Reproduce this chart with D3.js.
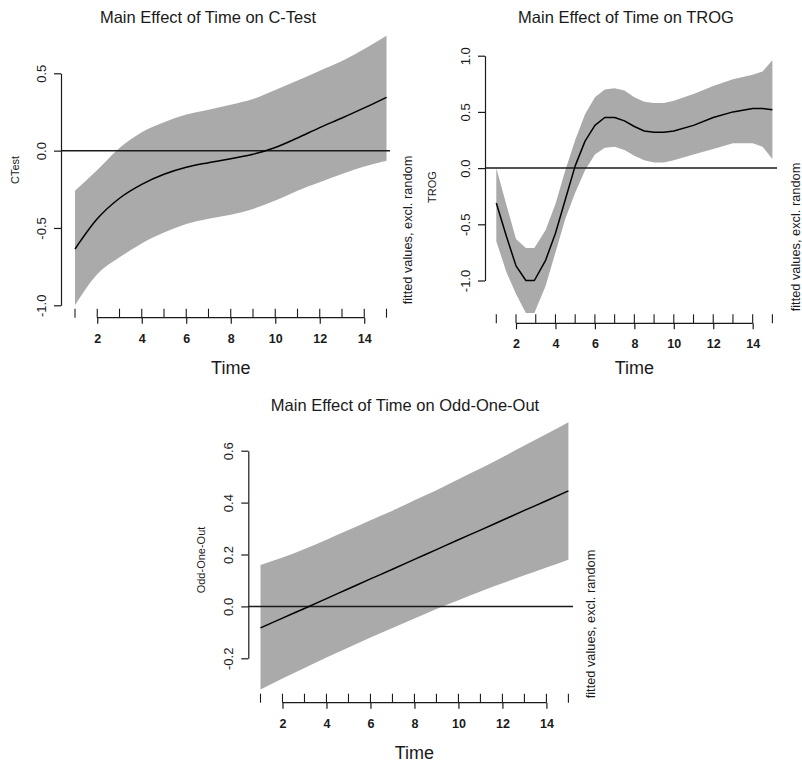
<!DOCTYPE html>
<html>
<head>
<meta charset="utf-8">
<script src="https://cdn.jsdelivr.net/npm/d3@7"></script>
<style>
  html, body { margin: 0; padding: 0; background: #fff; }
  svg { display: block; font-family: "Liberation Sans", Arial, Helvetica, sans-serif; }
</style>
</head>
<body>
<svg id="chart" width="802" height="764"></svg>
<script>
// ---------- DATA ----------
const rugTimes = [1,2,3,4,5,6,7,8,9,10,11,12,13,14,15];
const xTickValues = [2,4,6,8,10,12,14];

// Panel 1: C-Test
const ctestTime  = [1,2,3,4,5,6,7,8,9,10,11,12,13,14,15];
const ctestFit   = [-0.636,-0.441,-0.308,-0.218,-0.153,-0.108,-0.078,-0.052,-0.024,0.020,0.082,0.149,0.211,0.276,0.345];
const ctestUpper = [-0.259,-0.125,0.017,0.119,0.183,0.233,0.265,0.297,0.334,0.392,0.453,0.517,0.580,0.657,0.743];
const ctestLower = [-1.000,-0.800,-0.690,-0.600,-0.530,-0.474,-0.440,-0.414,-0.377,-0.323,-0.259,-0.205,-0.151,-0.103,-0.065];
const ctestYTicks = [-1.0,-0.5,0.0,0.5];

// Panel 2: TROG
const trogTime  = [1,1.5,2,2.5,2.93,3.5,4,4.5,5,5.5,6,6.5,7,7.5,8,8.5,9,9.5,10,11,12,13,14,14.5,15];
const trogFit   = [-0.31,-0.60,-0.87,-1.00,-1.00,-0.82,-0.58,-0.28,0.02,0.24,0.38,0.45,0.45,0.42,0.37,0.33,0.32,0.32,0.33,0.38,0.45,0.50,0.53,0.53,0.52];
const trogUpper = [0.00,-0.32,-0.63,-0.71,-0.71,-0.55,-0.32,-0.02,0.25,0.48,0.63,0.70,0.71,0.69,0.63,0.59,0.58,0.58,0.60,0.66,0.73,0.79,0.83,0.86,0.96];
const trogLower = [-0.65,-0.92,-1.12,-1.29,-1.29,-1.05,-0.75,-0.45,-0.22,-0.02,0.12,0.18,0.19,0.16,0.11,0.07,0.05,0.05,0.07,0.12,0.17,0.22,0.22,0.19,0.08];
const trogYTicks = [-1.0,-0.5,0.0,0.5,1.0];

// Panel 3: Odd-One-Out
const oddTime  = [1,2,3,4,5,6,7,8,9,10,11,12,13,14,15];
const oddFit   = [-0.083,-0.045,-0.008,0.030,0.068,0.106,0.143,0.181,0.219,0.257,0.294,0.332,0.370,0.407,0.445];
const oddUpper = [0.160,0.188,0.221,0.257,0.294,0.332,0.369,0.409,0.448,0.490,0.531,0.575,0.620,0.664,0.710];
const oddLower = [-0.320,-0.278,-0.237,-0.197,-0.158,-0.120,-0.083,-0.047,-0.010,0.024,0.057,0.089,0.120,0.150,0.180];
const oddYTicks = [-0.2,0.0,0.2,0.4,0.6];

const titles = ["Main Effect of Time on C-Test","Main Effect of Time on TROG","Main Effect of Time on Odd-One-Out"];
const yLabels = ["CTest","TROG","Odd-One-Out"];
const xLabel = "Time";
const sideLabel = "fitted values, excl. random";

// ---------- LAYOUT ----------
const panels = [
  { time: ctestTime, fit: ctestFit, upper: ctestUpper, lower: ctestLower, yTicks: ctestYTicks,
    title: titles[0], ylab: yLabels[0], curve: d3.curveMonotoneX,
    xr: [75, 386.5], yr: [305.3, 73.3], yAxisX: 61, xAxisY: 317.7, zeroX2: 390,
    titleX: 208, titleY: 23, ylabX: 15, ylabY: 170, timeY: 374, sideX: 408, sideY: 230 },
  { time: trogTime, fit: trogFit, upper: trogUpper, lower: trogLower, yTicks: trogYTicks,
    title: titles[1], ylab: yLabels[1], curve: d3.curveLinear,
    xr: [496.3, 772.4], yr: [280.5, 55.7], yAxisX: 485, xAxisY: 323.3, zeroX2: 777,
    titleX: 626, titleY: 23, ylabX: 432, ylabY: 187, timeY: 374, sideX: 796, sideY: 237 },
  { time: oddTime, fit: oddFit, upper: oddUpper, lower: oddLower, yTicks: oddYTicks,
    title: titles[2], ylab: yLabels[2], curve: d3.curveMonotoneX,
    xr: [260.5, 568.4], yr: [658.3, 450.7], yAxisX: 248.3, xAxisY: 702.7, zeroX2: 573,
    titleX: 405, titleY: 411, ylabX: 201.5, ylabY: 560, timeY: 759, sideX: 591, sideY: 624 }
];

const svg = d3.select("#chart");
const ink = "#1a1a1a";
const bandFill = "#aaaaaa";

panels.forEach(p => {
  const x = d3.scaleLinear().domain([1, 15]).range(p.xr);
  const yDom = d3.extent(p.yTicks);
  const y = d3.scaleLinear().domain(yDom).range(p.yr);
  const g = svg.append("g");
  const rows = p.time.map((t, i) => ({ t, fit: p.fit[i], lo: p.lower[i], hi: p.upper[i] }));

  // band
  g.append("path")
    .datum(rows)
    .attr("fill", bandFill)
    .attr("d", d3.area().curve(p.curve).x(d => x(d.t)).y0(d => y(d.lo)).y1(d => y(d.hi)));

  // zero line
  g.append("line")
    .attr("x1", p.yAxisX).attr("x2", p.zeroX2)
    .attr("y1", y(0)).attr("y2", y(0))
    .attr("stroke", ink).attr("stroke-width", 1.5);

  // fit line
  g.append("path")
    .datum(rows)
    .attr("fill", "none")
    .attr("stroke", "#000")
    .attr("stroke-width", 1.5)
    .attr("stroke-linejoin", "round")
    .attr("d", d3.line().curve(p.curve).x(d => x(d.t)).y(d => y(d.fit)));

  // y axis
  const ya = g.append("g")
    .attr("transform", `translate(${p.yAxisX},0)`)
    .call(d3.axisLeft(y).tickValues(p.yTicks).tickSize(7).tickSizeOuter(0).tickFormat(d3.format(".1f")));
  ya.select(".domain").attr("stroke", ink).attr("stroke-width", 1.2);
  ya.selectAll(".tick line").attr("stroke", ink).attr("stroke-width", 1.2);
  ya.selectAll(".tick text")
    .attr("x", null).attr("y", null).attr("dy", "0.35em")
    .attr("transform", "translate(-20,0) rotate(-90)")
    .attr("text-anchor", "middle")
    .attr("font-size", 13)
    .attr("fill", ink)
    .text(d => d3.format(".1f")(d).replace("−", "-"));

  // x axis
  const xa = g.append("g")
    .attr("transform", `translate(0,${p.xAxisY})`)
    .call(d3.axisBottom(x).tickValues(xTickValues).tickSize(6).tickSizeOuter(0));
  xa.select(".domain").remove();
  xa.append("line")
    .attr("x1", x(xTickValues[0])).attr("x2", x(xTickValues[xTickValues.length - 1]))
    .attr("y1", 0).attr("y2", 0)
    .attr("stroke", ink).attr("stroke-width", 1.2);
  xa.selectAll(".tick line").attr("stroke", ink).attr("stroke-width", 1.2);
  xa.selectAll(".tick text")
    .attr("y", 16).attr("dy", "0.71em")
    .attr("font-size", 12.5).attr("font-weight", "bold")
    .attr("fill", ink);

  // rug
  g.selectAll("line.rug")
    .data(rugTimes)
    .join("line")
    .attr("class", "rug")
    .attr("x1", d => x(d)).attr("x2", d => x(d))
    .attr("y1", p.xAxisY - 9).attr("y2", p.xAxisY)
    .attr("stroke", ink).attr("stroke-width", 1.1);

  // titles & labels
  g.append("text")
    .attr("x", p.titleX).attr("y", p.titleY)
    .attr("text-anchor", "middle")
    .attr("font-size", 16.5).attr("fill", ink)
    .text(p.title);

  g.append("text")
    .attr("x", (p.xr[0] + p.xr[1]) / 2).attr("y", p.timeY)
    .attr("text-anchor", "middle")
    .attr("font-size", 18).attr("fill", ink)
    .text(xLabel);

  g.append("text")
    .attr("transform", `translate(${p.ylabX},${p.ylabY}) rotate(-90)`)
    .attr("dy", "0.35em")
    .attr("text-anchor", "middle")
    .attr("font-size", 11).attr("fill", ink)
    .text(p.ylab);

  g.append("text")
    .attr("transform", `translate(${p.sideX},${p.sideY}) rotate(-90)`)
    .attr("dy", "0.35em")
    .attr("text-anchor", "middle")
    .attr("font-size", 12.8).attr("fill", ink)
    .text(sideLabel);
});
</script>
</body>
</html>
